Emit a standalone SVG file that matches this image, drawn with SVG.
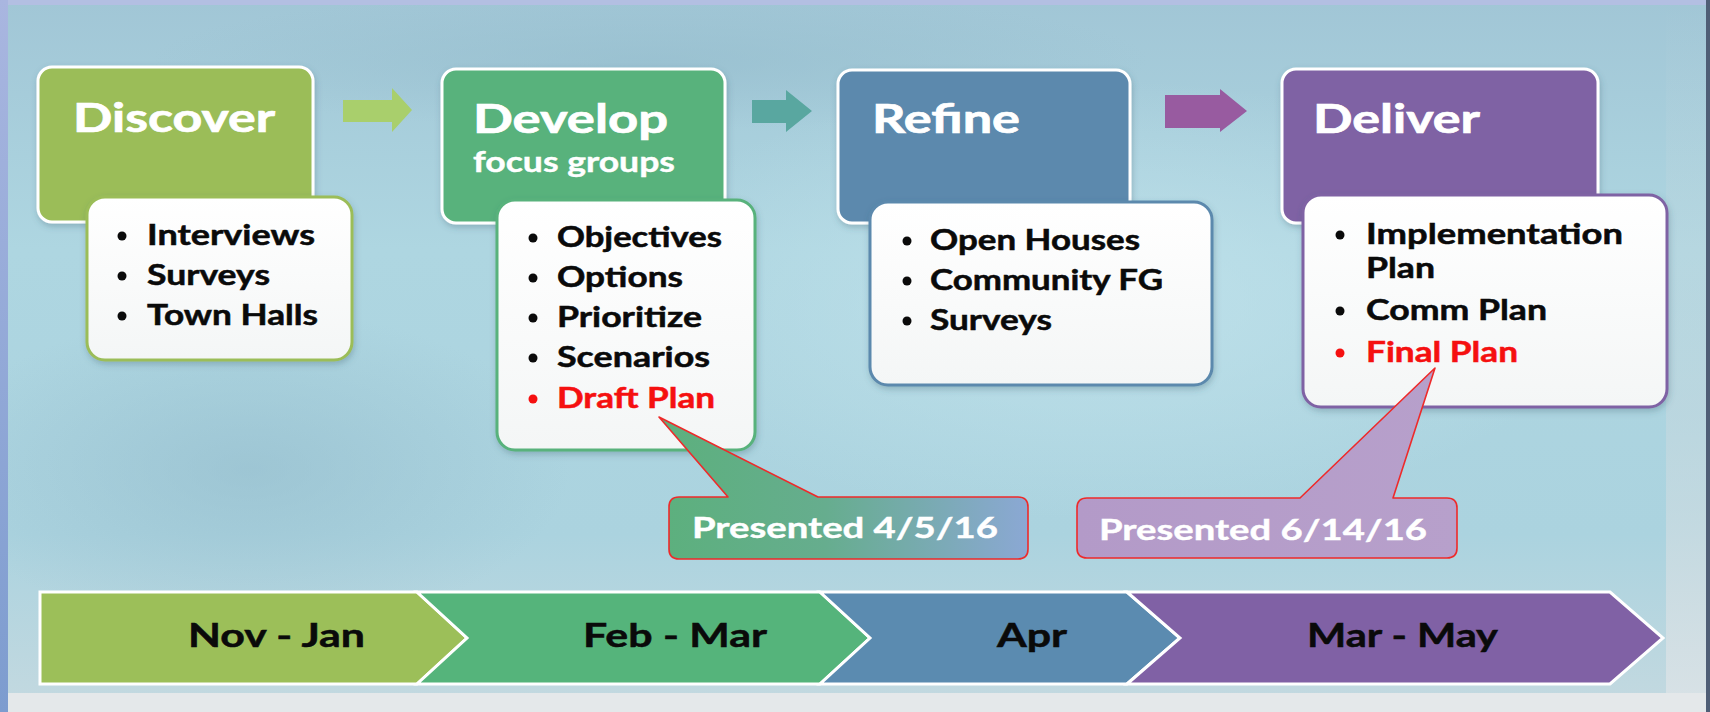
<svg xmlns="http://www.w3.org/2000/svg" width="1710" height="712" viewBox="0 0 1710 712">
<style>
.title{font-family:Lato,"Open Sans","Liberation Sans",sans-serif;font-weight:bold;font-size:40px;fill:#ffffff;stroke:#ffffff;stroke-width:0.7}
.sub{font-family:Lato,"Open Sans","Liberation Sans",sans-serif;font-weight:bold;font-size:28px;fill:#ffffff;stroke:#ffffff;stroke-width:0.4}
.item{font-family:Lato,"Open Sans","Liberation Sans",sans-serif;font-weight:bold;font-size:28px;fill:#0a0a0a;stroke:#0a0a0a;stroke-width:0.5}
.red{fill:#f51010;stroke:#f51010}
.call{font-family:Lato,"Open Sans","Liberation Sans",sans-serif;font-weight:bold;font-size:29px;fill:#ffffff;stroke:#ffffff;stroke-width:0.4}
.bar{font-family:Lato,"Open Sans","Liberation Sans",sans-serif;font-weight:bold;font-size:33px;fill:#0a0a0a;stroke:#0a0a0a;stroke-width:0.5}
.tbox{stroke:#ffffff;stroke-width:3}
.dbox{fill:url(#white);stroke-width:3}
.seg{stroke:#ffffff;stroke-width:3;stroke-linejoin:miter}
.callout{stroke:#ee2a2a;stroke-width:1.6;stroke-linejoin:round}
</style>
<defs>
<linearGradient id="bg" x1="0" y1="0" x2="0" y2="1">
<stop offset="0" stop-color="#a1c6d6"/>
<stop offset="0.35" stop-color="#aed6e1"/>
<stop offset="0.75" stop-color="#abd3df"/>
<stop offset="1" stop-color="#c4d9e0"/>
</linearGradient>
<radialGradient id="light" cx="0.5" cy="0.5" r="0.5">
<stop offset="0" stop-color="#c2e3ec" stop-opacity="0.8"/>
<stop offset="1" stop-color="#c2e3ec" stop-opacity="0"/>
</radialGradient>
<radialGradient id="dark" cx="0.5" cy="0.5" r="0.5">
<stop offset="0" stop-color="#94bccc" stop-opacity="0.6"/>
<stop offset="1" stop-color="#94bccc" stop-opacity="0"/>
</radialGradient>
<linearGradient id="leftstrip" x1="0" y1="0" x2="0" y2="1">
<stop offset="0" stop-color="#a9b6e0"/>
<stop offset="1" stop-color="#7d9ccf"/>
</linearGradient>
<linearGradient id="rightpanel" x1="0" y1="0" x2="0" y2="1">
<stop offset="0" stop-color="#c9d9df" stop-opacity="0"/>
<stop offset="0.6" stop-color="#c9d9df" stop-opacity="0.5"/>
<stop offset="1" stop-color="#d9e2e6" stop-opacity="0.9"/>
</linearGradient>
<linearGradient id="white" x1="0" y1="0" x2="0" y2="1">
<stop offset="0" stop-color="#ffffff"/>
<stop offset="1" stop-color="#f4f6f6"/>
</linearGradient>
<linearGradient id="call1" x1="0" y1="0" x2="1" y2="0">
<stop offset="0" stop-color="#5cb07d"/>
<stop offset="0.45" stop-color="#66ad8e"/>
<stop offset="1" stop-color="#8ba8d4"/>
</linearGradient>
<linearGradient id="call2" x1="0" y1="0" x2="1" y2="0">
<stop offset="0" stop-color="#b39ac8"/>
<stop offset="1" stop-color="#b7a0cb"/>
</linearGradient>
<filter id="sh" x="-10%" y="-10%" width="120%" height="130%">
<feDropShadow dx="1" dy="3" stdDeviation="3" flood-color="#3a5a6a" flood-opacity="0.3"/>
</filter>
</defs>

<g id="background">
<rect x="0" y="0" width="1710" height="712" fill="url(#bg)"/>
<ellipse cx="1100" cy="300" rx="500" ry="220" fill="url(#light)"/>
<ellipse cx="250" cy="470" rx="320" ry="160" fill="url(#dark)"/>
<ellipse cx="650" cy="60" rx="500" ry="70" fill="url(#dark)"/>
<rect x="1666" y="5" width="40" height="688" fill="url(#rightpanel)"/>
<rect x="8" y="693" width="1698" height="19" fill="#e4e8ea"/>
<rect x="0" y="0" width="1710" height="5" fill="#b3bfe2"/>
<rect x="0" y="0" width="8" height="712" fill="url(#leftstrip)"/>
<rect x="1706" y="0" width="4" height="712" fill="#4f5e76"/>
</g>

<g id="connectors">
<polygon points="343,100 392,100 392,88 412,110 392,132 392,122 343,122" fill="#a9cf6c"/>
<polygon points="752,100 786,100 786,90 812,111 786,132 786,123 752,123" fill="#59a7a0"/>
<polygon points="1165,95 1220,95 1220,89 1247,111 1220,132 1220,128 1165,128" fill="#985ba0"/>
</g>

<g id="discover">
<rect class="tbox" x="38" y="67" width="275" height="155" rx="14" fill="#9bbd58" filter="url(#sh)"/>
<text class="title" x="73" y="132" textLength="202" lengthAdjust="spacingAndGlyphs">Discover</text>
<rect class="dbox" x="87" y="197" width="265" height="163" rx="18" stroke="#9bbd58" filter="url(#sh)"/>
<circle cx="122" cy="236" r="4.5" fill="#0a0a0a"/>
<text class="item" x="147" y="245" textLength="168" lengthAdjust="spacingAndGlyphs">Interviews</text>
<circle cx="122" cy="276" r="4.5" fill="#0a0a0a"/>
<text class="item" x="147" y="285" textLength="123" lengthAdjust="spacingAndGlyphs">Surveys</text>
<circle cx="122" cy="316" r="4.5" fill="#0a0a0a"/>
<text class="item" x="147" y="325" textLength="171" lengthAdjust="spacingAndGlyphs">Town Halls</text>
</g>

<g id="develop">
<rect class="tbox" x="442" y="69" width="283" height="154" rx="14" fill="#58b27b" filter="url(#sh)"/>
<text class="title" x="473" y="133" textLength="195" lengthAdjust="spacingAndGlyphs">Develop</text>
<text class="sub" x="473" y="172" textLength="202" lengthAdjust="spacingAndGlyphs">focus groups</text>
<rect class="dbox" x="497" y="200" width="258" height="250" rx="18" stroke="#58b27b" filter="url(#sh)"/>
<circle cx="533" cy="238" r="4.5" fill="#0a0a0a"/>
<text class="item" x="557" y="247" textLength="165" lengthAdjust="spacingAndGlyphs">Objectives</text>
<circle cx="533" cy="278" r="4.5" fill="#0a0a0a"/>
<text class="item" x="557" y="287" textLength="126" lengthAdjust="spacingAndGlyphs">Options</text>
<circle cx="533" cy="318" r="4.5" fill="#0a0a0a"/>
<text class="item" x="557" y="327" textLength="145" lengthAdjust="spacingAndGlyphs">Prioritize</text>
<circle cx="533" cy="358" r="4.5" fill="#0a0a0a"/>
<text class="item" x="557" y="367" textLength="153" lengthAdjust="spacingAndGlyphs">Scenarios</text>
<circle cx="533" cy="399" r="4.5" fill="#f51010"/>
<text class="item red" x="557" y="408" textLength="158" lengthAdjust="spacingAndGlyphs">Draft Plan</text>
</g>

<g id="refine">
<rect class="tbox" x="838" y="70" width="292" height="153" rx="14" fill="#5b89ad" filter="url(#sh)"/>
<text class="title" x="872" y="133" textLength="148" lengthAdjust="spacingAndGlyphs">Refine</text>
<rect class="dbox" x="870" y="202" width="342" height="183" rx="18" stroke="#5b89ad" filter="url(#sh)"/>
<circle cx="907" cy="241" r="4.5" fill="#0a0a0a"/>
<text class="item" x="930" y="250" textLength="210" lengthAdjust="spacingAndGlyphs">Open Houses</text>
<circle cx="907" cy="281" r="4.5" fill="#0a0a0a"/>
<text class="item" x="930" y="290" textLength="233" lengthAdjust="spacingAndGlyphs">Community FG</text>
<circle cx="907" cy="321" r="4.5" fill="#0a0a0a"/>
<text class="item" x="930" y="330" textLength="122" lengthAdjust="spacingAndGlyphs">Surveys</text>
</g>

<g id="deliver">
<rect class="tbox" x="1282" y="69" width="316" height="154" rx="14" fill="#7f62a4" filter="url(#sh)"/>
<text class="title" x="1313" y="133" textLength="167" lengthAdjust="spacingAndGlyphs">Deliver</text>
<rect class="dbox" x="1303" y="195" width="364" height="212" rx="18" stroke="#7f62a4" filter="url(#sh)"/>
<circle cx="1340" cy="235" r="4.5" fill="#0a0a0a"/>
<text class="item" x="1366" y="244" textLength="257" lengthAdjust="spacingAndGlyphs">Implementation</text>
<text class="item" x="1366" y="278" textLength="69" lengthAdjust="spacingAndGlyphs">Plan</text>
<circle cx="1340" cy="311" r="4.5" fill="#0a0a0a"/>
<text class="item" x="1366" y="320" textLength="181" lengthAdjust="spacingAndGlyphs">Comm Plan</text>
<circle cx="1340" cy="353" r="4.5" fill="#f51010"/>
<text class="item red" x="1366" y="362" textLength="152" lengthAdjust="spacingAndGlyphs">Final Plan</text>
</g>

<g id="callout-1">
<path class="callout" fill="url(#call1)" d="M679,497 L728,497 L659,417 L818,497 L1018,497 Q1028,497 1028,507 L1028,549 Q1028,559 1018,559 L679,559 Q669,559 669,549 L669,507 Q669,497 679,497 Z"/>
<text class="call" x="692" y="538" textLength="306" lengthAdjust="spacingAndGlyphs">Presented 4/5/16</text>
</g>

<g id="callout-2">
<path class="callout" fill="url(#call2)" d="M1087,498 L1300,498 L1435,368 L1393,498 L1447,498 Q1457,498 1457,508 L1457,548 Q1457,558 1447,558 L1087,558 Q1077,558 1077,548 L1077,508 Q1077,498 1087,498 Z"/>
<text class="call" x="1099" y="540" textLength="328" lengthAdjust="spacingAndGlyphs">Presented 6/14/16</text>
</g>

<g id="timeline">
<polygon class="seg" points="40,592 417,592 467,638 417,684 40,684" fill="#9cbf59"/>
<polygon class="seg" points="417,592 820,592 870,638 820,684 417,684 467,638" fill="#55b47b"/>
<polygon class="seg" points="820,592 1127,592 1180,638 1127,684 820,684 870,638" fill="#5b8bb0"/>
<polygon class="seg" points="1127,592 1610,592 1663,638 1610,684 1127,684 1180,638" fill="#8061a5"/>
<text class="bar" x="188" y="647" textLength="177" lengthAdjust="spacingAndGlyphs">Nov - Jan</text>
<text class="bar" x="583" y="647" textLength="184" lengthAdjust="spacingAndGlyphs">Feb - Mar</text>
<text class="bar" x="997" y="647" textLength="70" lengthAdjust="spacingAndGlyphs">Apr</text>
<text class="bar" x="1307" y="647" textLength="191" lengthAdjust="spacingAndGlyphs">Mar - May</text>
</g>
</svg>
